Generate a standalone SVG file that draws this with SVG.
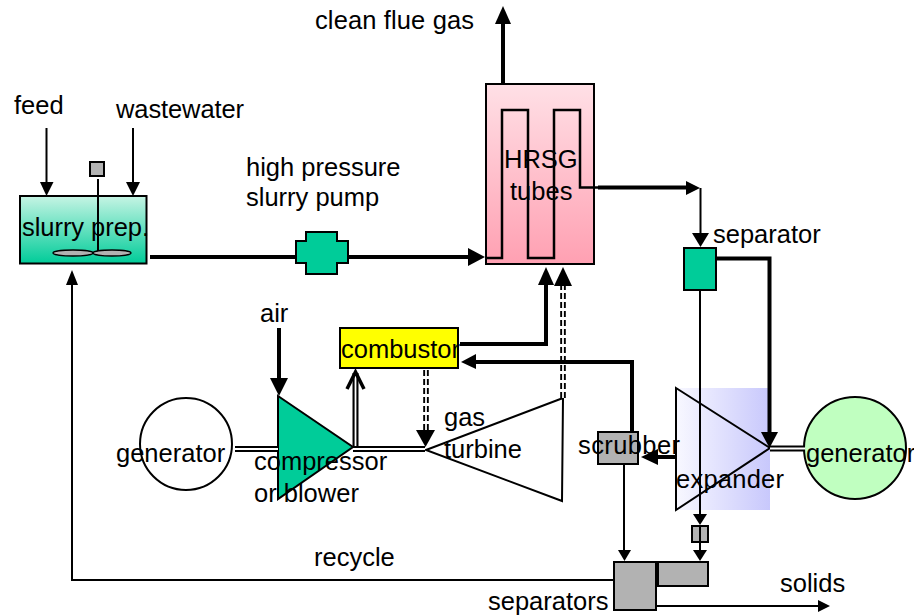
<svg xmlns="http://www.w3.org/2000/svg" width="914" height="615" viewBox="0 0 914 615">
<style>
text{font-family:"Liberation Sans",Arial,sans-serif;font-size:25.500px;fill:#000}
.s{stroke:#000;fill:none}
.t1{stroke-width:2}
.t2{stroke-width:2.5}
.t4{stroke-width:4}
.b{stroke:#000;stroke-width:2}
.g{fill:#b2b2b2}
.h{fill:#000;stroke:none}
.d1{stroke:#000;stroke-width:6;fill:none}
.d2{stroke:#fff;stroke-width:1.800;fill:none}
.dk{stroke:#000;stroke-width:5.600;stroke-dasharray:6 3;fill:none}
</style>
<defs>
<linearGradient id="gs" x1="0" y1="0" x2="0" y2="1"><stop offset="0" stop-color="#c6f4e4"/><stop offset="1" stop-color="#00cc99"/></linearGradient>
<linearGradient id="gp" x1="0" y1="0" x2="0" y2="1"><stop offset="0" stop-color="#ffe0e6"/><stop offset="1" stop-color="#ffa0b2"/></linearGradient>
<linearGradient id="gb" x1="0" y1="0" x2="1" y2="0"><stop offset="0" stop-color="#f8f8ff"/><stop offset="1" stop-color="#c8c8fc"/></linearGradient>
</defs>

<g id="expander-bg"><rect x="676" y="388" width="94" height="122" fill="url(#gb)"/></g>

<g id="slurry-prep">
<rect x="20" y="196" width="126.500" height="67.500" fill="url(#gs)" class="b"/>
<rect x="90" y="162" width="14" height="14" class="g b"/>
<path d="M98 179V255" class="s t1"/>
<ellipse cx="73" cy="253" rx="20" ry="3" class="g" stroke="#000" stroke-width="1.300"/>
<ellipse cx="112" cy="253" rx="19" ry="3" class="g" stroke="#000" stroke-width="1.300"/>
<text x="22" y="236" textLength="127">slurry prep.</text>
</g>

<g id="pump">
<path d="M306 232H337V241H348V263H337V274H306V263H296V241H306Z" fill="#00cc99" class="b"/>
</g>

<g id="hrsg">
<rect x="486" y="84" width="108" height="180" fill="url(#gp)" class="b"/>
<path d="M485 258H502V110H528V258H554V110H580V187.500H598" class="s t2"/>
<text x="504" y="168">HRSG</text>
<text x="510" y="200">tubes</text>
</g>

<g id="separator">
<rect x="684" y="248" width="32" height="42" fill="#00cc99" class="b"/>
</g>

<g id="combustor">
<rect x="340" y="328" width="118" height="40" fill="#ffff00" class="b"/>
<text x="341" y="358">combustor</text>
</g>

<g id="generator-left">
<circle cx="186" cy="444" r="46" fill="#fff" class="b"/>
<text x="116" y="462">generator</text>
</g>

<g id="compressor">
<path d="M278 396L353 447L278 499Z" fill="#00cc99" class="b"/>
</g>

<g id="gas-turbine">
<path d="M426 450L563 398L562 501Z" fill="#fff" class="b"/>
</g>

<g id="expander">
<path d="M676 388L770 448L676 510Z" fill="none" class="b"/>
</g>

<g id="generator-right">
<circle cx="855" cy="448" r="51" fill="#c0ffc0" class="b"/>
</g>

<g id="scrubber">
<rect x="598" y="432" width="40" height="32" class="g b"/>
</g>

<g id="valve">
<rect x="692" y="526" width="16" height="16" class="g b"/>
</g>

<g id="separators">
<rect x="658" y="562" width="50" height="24" class="g b"/>
<rect x="614" y="562" width="42" height="48" class="g b"/>
</g>

<g id="connectors">
<path d="M46.500 128V183" class="s t1"/><path class="h" d="M40 182H53.500L46.500 196Z"/>
<path d="M133 128V183" class="s t1"/><path class="h" d="M126 182H140L133 196Z"/>
<path d="M150 257H296M348 257H470" class="s t4"/><path class="h" d="M468 248L485 257L468 266Z"/>
<path d="M503 84V22" class="s t4"/><path class="h" d="M495 24L503 6L511 24Z"/>
<path d="M598 187.500H688" class="s t4"/><path class="h" d="M686 181L700 188L686 195Z"/>
<path d="M700.500 188V234" class="s t1"/><path class="h" d="M692 233H709L700.500 247Z"/>
<path d="M716 258.500H769.500V434" class="s t4"/><path class="h" d="M761 432H778L769.500 448Z"/>
<path d="M700 290V518" class="s t1"/><path class="h" d="M693 514H707L700 525Z"/>
<path d="M700 526V551" class="s t1"/><path class="h" d="M693 550H707L700 561Z"/>
<path d="M279 328V382" class="s t4"/><path class="h" d="M270 378H288L279 396Z"/>
<path d="M355.500 447V373" class="d1"/><path d="M355.500 447V372" class="d2"/>
<path d="M347 389L355.500 372L364 389" class="s" stroke-width="3.500"/>
<path d="M235 449H278M353 449H425M770 448.500H805" class="d1"/>
<path d="M235 449H278M353 449H425M770 448.500H805" class="d2"/>
<path d="M460 344H546V284" class="s t4"/><path class="h" d="M538 285L546 267L554 285Z"/>
<path d="M563 398V285" class="dk"/><path d="M563 398V285" class="d2"/><path class="h" d="M554 286L563 267L572 286Z"/>
<path d="M426 370V432" class="dk"/><path d="M426 370V432" class="d2"/><path class="h" d="M416 430H435L425.500 447Z"/>
<path d="M632 432V362H474" class="s t4"/><path class="h" d="M476 354L461 362L476 369Z"/>
<path d="M676 457H654" class="s t4"/><path class="h" d="M658 449L641 457L658 465Z"/>
<path d="M624 464V551" class="s t1"/><path class="h" d="M618 550H631L624.500 561Z"/>
<path d="M614 580H72V284" class="s t1"/><path class="h" d="M66 285L72 270L78 285Z"/>
<path d="M657 606H820" class="s t1"/><path class="h" d="M818 600L830 606L818 612Z"/>
</g>

<g id="labels">
<text x="315" y="29" textLength="159">clean flue gas</text>
<text x="14" y="114">feed</text>
<text x="116" y="118" textLength="128">wastewater</text>
<text x="246" y="176">high pressure</text>
<text x="246" y="206">slurry pump</text>
<text x="713" y="243">separator</text>
<text x="260" y="322">air</text>
<text x="444" y="426">gas</text>
<text x="444" y="458">turbine</text>
<text x="254" y="470">compressor</text>
<text x="254" y="502">or blower</text>
<text x="578" y="454" textLength="102">scrubber</text>
<text x="676" y="488" textLength="108">expander</text>
<text x="806" y="462">generator</text>
<text x="314" y="566">recycle</text>
<text x="488" y="610">separators</text>
<text x="780" y="592">solids</text>
</g>
</svg>
